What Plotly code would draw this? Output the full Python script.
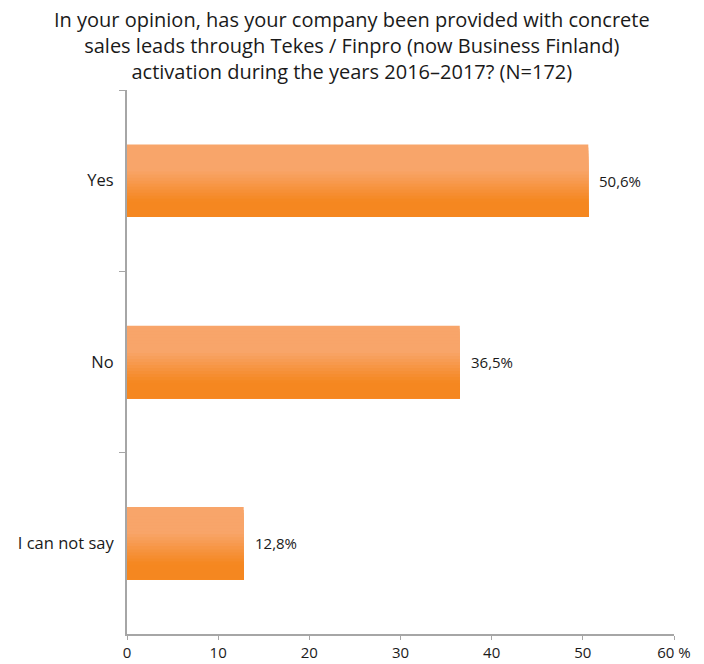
import plotly.graph_objects as go

categories = ["Yes", "No", "I can not say"]
values = [50.6, 36.5, 12.8]
tick_vals = [0, 10, 20, 30, 40, 50, 60]
tick_text = ["0", "10", "20", "30", "40", "50", "60 %"]
title = ("In your opinion, has your company been provided with concrete<br>"
         "sales leads through Tekes / Finpro (now Business Finland)<br>"
         "activation during the years 2016–2017? (N=172)")

light = (248, 165, 106)
dark = (245, 135, 32)

def mix(t):
    # gradient profile: light on top, transition in middle, dark at bottom
    if t < 0.35:
        s = 0.0
    elif t > 0.78:
        s = 1.0
    else:
        s = (t - 0.35) / 0.43
    c = [round(light[k] + (dark[k] - light[k]) * s) for k in range(3)]
    return f"rgb({c[0]},{c[1]},{c[2]})"

FONT = "Open Sans"
bar_w = 0.4
n = 24
fig = go.Figure()
for i in range(n):
    off = -bar_w / 2 + i * bar_w / n
    w = bar_w - i * bar_w / n
    fig.add_trace(go.Bar(
        x=values, y=categories, orientation="h",
        width=w, offset=off,
        marker=dict(color=mix((i + 0.5) / n), line=dict(width=0)),
        hoverinfo="skip", showlegend=False,
    ))

for cat, v in zip(categories, values):
    fig.add_annotation(x=v, y=cat, text=f"{v:.1f}%".replace(".", ","),
                       xanchor="left", yanchor="middle", xshift=9, showarrow=False,
                       font=dict(family=FONT, size=15, color="#1a1a1a"))

fig.add_annotation(x=(352 - 127) / 547, y=(634 - 4) / 544, xref="paper", yref="paper",
                   text=title, showarrow=False, xanchor="center", yanchor="top",
                   align="center",
                   font=dict(family=FONT, size=20, color="#1a1a1a"))

fig.update_layout(
    width=704, height=664,
    margin=dict(l=127, r=30, t=90, b=30, autoexpand=False),
    barmode="overlay",
    plot_bgcolor="white", paper_bgcolor="white",
    font=dict(family=FONT, color="#1a1a1a"),
)
fig.update_xaxes(range=[0, 60], tickvals=tick_vals, ticktext=tick_text,
                 automargin=False,
                 showgrid=False, zeroline=False, showline=True,
                 linecolor="#A6A6A6", linewidth=2,
                 ticks="outside", ticklen=4, tickcolor="#A6A6A6", tickwidth=1,
                 tickfont=dict(family=FONT, size=15, color="#1a1a1a"))
fig.update_yaxes(autorange="reversed", showgrid=False, zeroline=False,
                 automargin=False,
                 showline=True, linecolor="#A6A6A6", linewidth=2,
                 ticks="outside", ticklen=6, tickcolor="#A6A6A6", tickwidth=1,
                 tickson="boundaries", ticklabelstandoff=8,
                 tickfont=dict(family=FONT, size=16.5, color="#1a1a1a"))

fig.write_html("out.html")
